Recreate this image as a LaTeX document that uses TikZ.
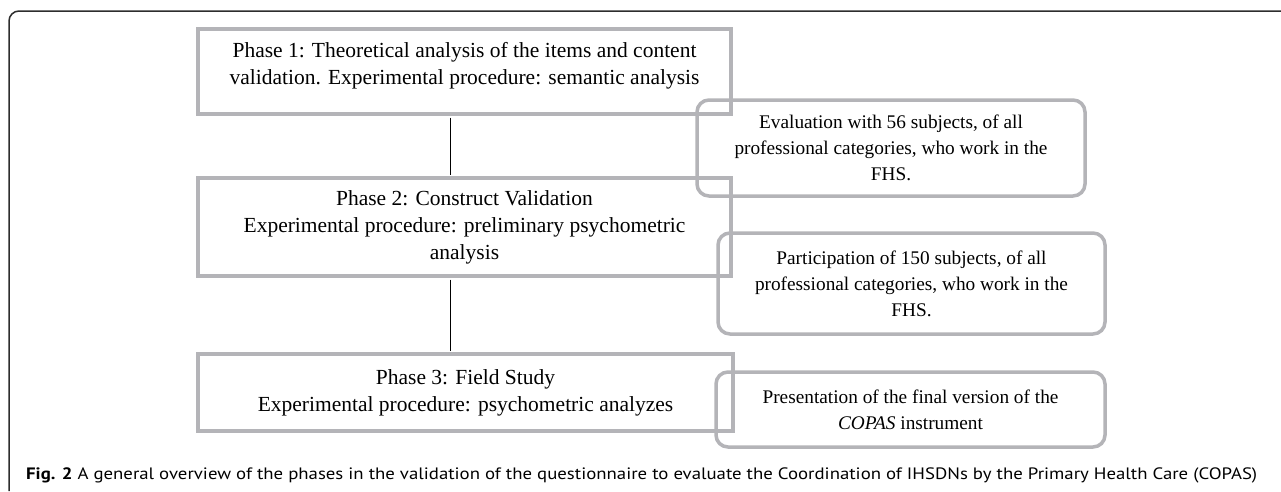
\documentclass[tikz,border=0pt]{standalone}
\usepackage{fontspec}
\setmainfont{Liberation Serif}
\newfontfamily\capfont{PT Sans}
\usepackage{graphicx}
\definecolor{boxgray}{RGB}{180,180,184}
\definecolor{framegray}{RGB}{45,45,45}
\tikzset{
  phasebox/.style={draw=boxgray, line width=3.5pt, minimum width=533pt, align=center, inner sep=0pt,
    font=\fontsize{21.5pt}{27pt}\selectfont},
  notebox/.style={draw=boxgray, line width=3.5pt, rounded corners=12pt, minimum width=388pt, align=center, inner sep=0pt,
    font=\fontsize{19.3pt}{26pt}\selectfont},
  link/.style={draw=black, line width=0.9pt},
  frameline/.style={draw=framegray, line width=1.5pt, rounded corners=10pt}
}
\begin{document}
\begin{tikzpicture}[x=1pt,y=-1pt]
\useasboundingbox (0,0) rectangle (1281,491);
\fill[white] (0,0) rectangle (1281,491);
\draw[frameline] (1281,11) -- (9,11) -- (9,491);
\node[phasebox, minimum height=85pt] (p1) at (464.5,71.5)
  {Phase 1: Theoretical analysis of the items and content\\validation. Experimental procedure: semantic analysis\rule[-17pt]{0pt}{0pt}};
\node[phasebox, minimum height=98pt] (p2) at (464.5,227)
  {Phase 2: Construct Validation\\Experimental procedure: preliminary psychometric\\analysis};
\node[phasebox, minimum height=77pt, minimum width=535pt] (p3) at (465.5,392.5)
  {Phase 3: Field Study\\Experimental procedure: psychometric analyzes};
\node[notebox, minimum height=96pt] (r1) at (891,148)
  {Evaluation with 56 subjects, of all\\professional categories, who work in the\\FHS.};
\node[notebox, minimum height=101pt, minimum width=387pt] (r2) at (911.5,283.5)
  {Participation of 150 subjects, of all\\professional categories, who work in the\\FHS.};
\node[notebox, minimum height=75pt, minimum width=389pt] (r3) at (910.5,409.5)
  {Presentation of the final version of the\\\textit{COPAS} instrument};
\draw[link] ([xshift=-14.5pt,yshift=-1.75pt]p1.south) -- ([xshift=-14.5pt,yshift=1.75pt]p2.north);
\draw[link] ([xshift=-14.5pt,yshift=-1.75pt]p2.south) -- ([xshift=-15.5pt,yshift=1.75pt]p3.north);
\node[anchor=base west, inner sep=0pt] (cap) at (26,479)
  {\resizebox{1231pt}{\height}{\capfont\fontsize{16.5pt}{20pt}\selectfont\textbf{Fig. 2} A general overview of the phases in the validation of the questionnaire to evaluate the Coordination of IHSDNs by the Primary Health Care (COPAS)}};
\end{tikzpicture}
\end{document}
